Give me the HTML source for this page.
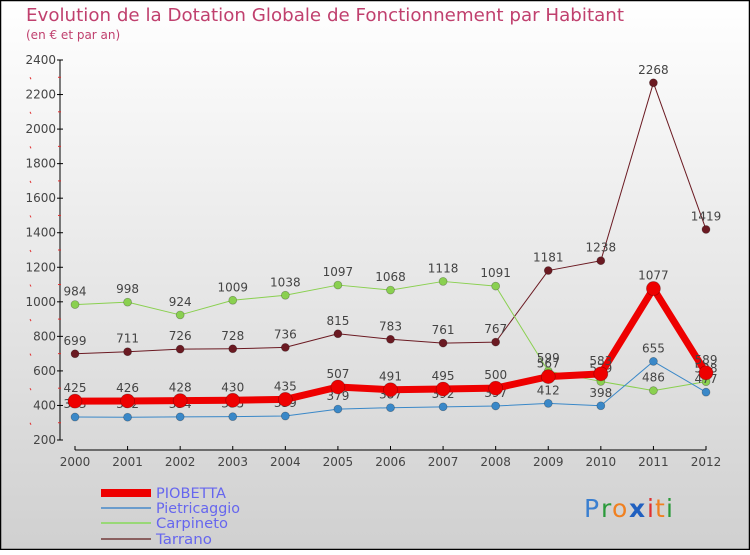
<!DOCTYPE html>
<html><head><meta charset="utf-8">
<style>
html,body{margin:0;padding:0;}
body{width:750px;height:550px;overflow:hidden;font-family:"Liberation Sans",sans-serif;}
svg text{font-family:"DejaVu Sans","Liberation Sans",sans-serif;}
</style></head>
<body>
<svg id="chart" width="750" height="550" viewBox="0 0 750 550" xmlns="http://www.w3.org/2000/svg">
<defs>
<linearGradient id="bg" x1="0" y1="0" x2="0" y2="1">
<stop offset="0" stop-color="#ffffff"/><stop offset="1" stop-color="#d0d0d0"/>
</linearGradient>
</defs>
<rect x="0" y="0" width="750" height="550" fill="url(#bg)"/>
<rect x="0.5" y="0.5" width="749" height="549" fill="none" stroke="#000" stroke-width="1.5"/>
<text x="26" y="21" font-size="18" fill="#c0406e" textLength="598" lengthAdjust="spacingAndGlyphs">Evolution de la Dotation Globale de Fonctionnement par Habitant</text>
<text x="26" y="39" font-size="12" fill="#c0406e">(en € et par an)</text>
<g id="axes"></g>
<g id="series"></g>
<g id="legend">
<rect x="101" y="489" width="50" height="8" fill="#ee0000"/>
<text x="156" y="498" font-size="14" fill="#6666ee" textLength="70" lengthAdjust="spacingAndGlyphs">PIOBETTA</text>
<rect x="101" y="507" width="50" height="2" fill="#6a9ccc"/>
<text x="156" y="513" font-size="14" fill="#6666ee" textLength="84" lengthAdjust="spacingAndGlyphs">Pietricaggio</text>
<rect x="101" y="522" width="50" height="2" fill="#99d877"/>
<text x="156" y="528" font-size="14" fill="#6666ee" textLength="72" lengthAdjust="spacingAndGlyphs">Carpineto</text>
<rect x="101" y="538" width="50" height="2" fill="#8a6060"/>
<text x="156" y="544" font-size="14" fill="#6666ee" textLength="56" lengthAdjust="spacingAndGlyphs">Tarrano</text>
</g>
<g font-size="25">
<text x="584" y="517" fill="#3a7fd0">P</text><text x="601" y="517" fill="#2a9a3a">r</text><text x="612" y="517" fill="#f08020">o</text><text x="629" y="517" fill="#2060c0" font-weight="bold">x</text><text x="647" y="517" fill="#e03030">i</text><text x="655" y="517" fill="#f08020">t</text><text x="666" y="517" fill="#2a9a3a">i</text>
</g>
</svg>
<script>
const years=[2000,2001,2002,2003,2004,2005,2006,2007,2008,2009,2010,2011,2012];
const yTicks=[200,400,600,800,1000,1200,1400,1600,1800,2000,2200,2400];
const piobetta=[425,426,428,430,435,507,491,495,500,567,583,1077,589];
const pietricaggio=[333,332,334,335,339,379,387,392,397,412,398,655,477];
const carpineto=[984,998,924,1009,1038,1097,1068,1118,1091,599,539,486,538];
const tarrano=[699,711,726,728,736,815,783,761,767,1181,1238,2268,1419];
const NS="http://www.w3.org/2000/svg";
function xs(i){return 75+i*(706-75)/(years.length-1);}
function ys(v){return 440-(v-200)*(380/2200);}
function mk(tag,attrs,parent){const e=document.createElementNS(NS,tag);for(const k in attrs)e.setAttribute(k,attrs[k]);parent.appendChild(e);return e;}
const ax=document.getElementById('axes');
let yl=mk('line',{x1:60,y1:ys(2400),x2:60,y2:ys(200),stroke:'#000','stroke-width':1},ax);


yTicks.forEach(t=>{
 let l=mk('line',{x1:57,y1:ys(t),x2:63,y2:ys(t),stroke:'#000'},ax);
 
 
 let tx=mk('text',{x:56,y:ys(t)+4,'font-size':12,'text-anchor':'end',fill:'#444'},ax);
 tx.textContent=t;
 
 
 if(t<2400){
  let m=mk('line',{x1:58,y1:ys(t+100),x2:61,y2:ys(t+100),stroke:'#e03030'},ax);
  
  
  let m2=mk('line',{x1:30,y1:ys(t+100),x2:31,y2:ys(t+100)+2,stroke:'#e03030'},ax);
  
  
 }
});
let xl=mk('line',{x1:xs(0),y1:450,x2:xs(years.length-1),y2:450,stroke:'#000'},ax);


years.forEach((y,i)=>{
 let l=mk('line',{x1:xs(i),y1:446,x2:xs(i),y2:450,stroke:'#000'},ax);
 
 
 let tx=mk('text',{x:xs(i),y:466,'font-size':12,'text-anchor':'middle',fill:'#444'},ax);
 tx.textContent=y;
 
 
});
const sg=document.getElementById('series');
function draw(name,vals,color,w,r){
 const g=mk('g',{},sg);
 
 
 const p=mk('polyline',{points:vals.map((v,i)=>xs(i)+','+ys(v)).join(' '),fill:'none',stroke:color,'stroke-width':w,'stroke-linejoin':'round'},g);
 
 
 vals.forEach((v,i)=>{
  const c=mk('circle',{cx:xs(i),cy:ys(v),r:r,fill:color,stroke:'rgba(0,0,0,0.3)','stroke-width':0.7},g);
  
  
  const t=mk('text',{x:xs(i),y:ys(v)-9,'font-size':12,'text-anchor':'middle',fill:'#444'},g);
  t.textContent=v;
  
  
 });
}
draw('tarrano',tarrano,'#6b1a22',1,4);
draw('carpineto',carpineto,'#8ad050',1,4);
draw('pietricaggio',pietricaggio,'#3a88c8',1,4);
draw('piobetta',piobetta,'#ee0000',7,7);
</script>
</body></html>
